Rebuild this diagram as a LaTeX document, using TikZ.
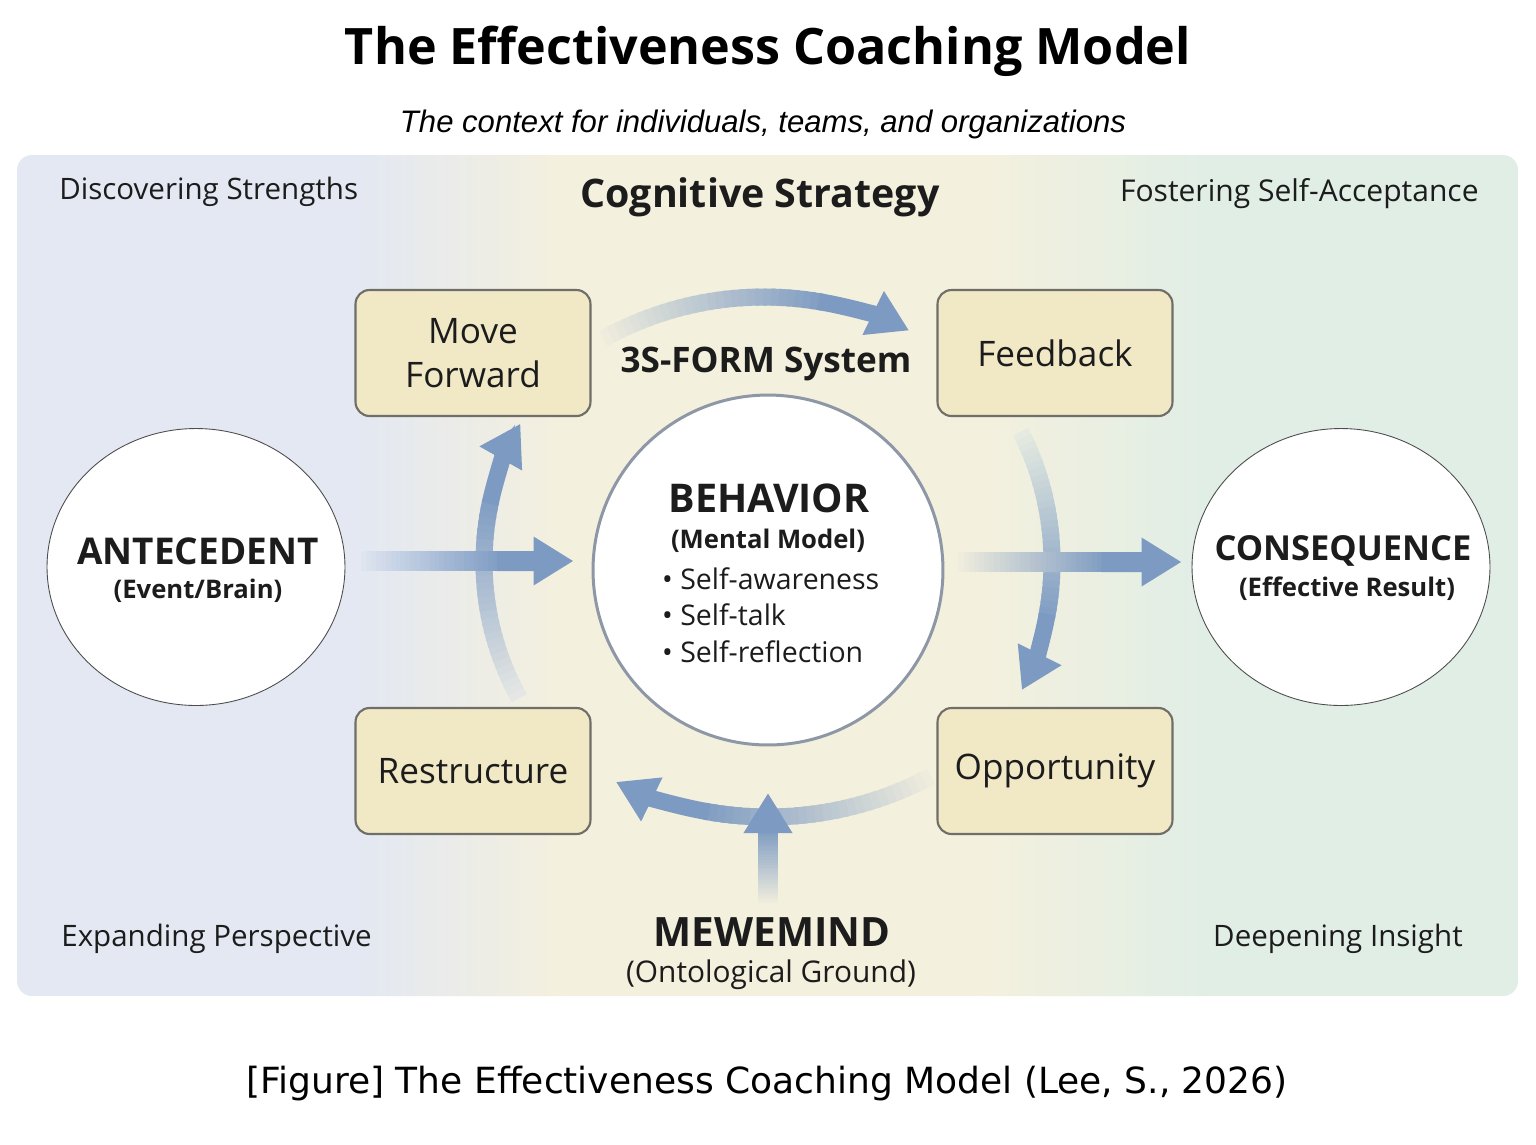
\documentclass[tikz,border=0pt]{standalone}
\usepackage{fontspec}
\setmainfont{Open Sans}
\newfontfamily\subfont{Liberation Sans}
\newfontfamily\capfont{DejaVu Sans}
\usetikzlibrary{arrows.meta,calc,positioning,shapes.geometric}

\definecolor{panelblue}{HTML}{E3E8F2}
\definecolor{panelcream}{HTML}{F4F0DE}
\definecolor{panelmint}{HTML}{E1EEE6}
\definecolor{panelmid}{HTML}{EAEBE6}
\definecolor{panelsea}{HTML}{EBEFE2}
\definecolor{boxfill}{HTML}{F1E8C6}
\definecolor{boxline}{HTML}{6F6E68}
\definecolor{arrowblue}{HTML}{7C9AC2}
\definecolor{ringline}{HTML}{8E97A6}
\definecolor{inktext}{HTML}{1C1C1C}

\tikzset{
  stagebox/.style={draw=boxline, line width=1.2pt, fill=boxfill, rounded corners=0.28cm,
    minimum width=4.7cm, minimum height=2.52cm, align=center,
    font=\fontsize{20}{25}\selectfont, text=inktext},
  sidering/.style={ellipse, draw=black!70, line width=0.5pt, fill=white,
    minimum width=5.96cm, minimum height=5.54cm},
  flowline/.style={line width=0.34cm},
  flowtip/.style={-{Triangle[width=0.92cm,length=0.8cm]}},
  cornerlabel/.style={font=\fontsize{16.8}{20}\selectfont, text=inktext, inner sep=0pt},
}

% arc arrow, fading in from a base colour: centre, radius, start angle, end angle, base
\newcommand{\fadearc}[5]{%
  \foreach \k in {0,...,27}{
    \pgfmathsetmacro{\angA}{#3+((#4)-(#3))*0.025*\k}
    \pgfmathsetmacro{\angB}{#3+((#4)-(#3))*0.025*(\k+1.5)}
    \pgfmathsetmacro{\segmix}{5+3.3*\k}
    \draw[flowline, draw=arrowblue!\segmix!#5] (#1) ++(\angA:#2) arc[start angle=\angA, end angle=\angB, radius=#2];
  }
  \pgfmathsetmacro{\angA}{#3+((#4)-(#3))*0.7}
  \draw[flowline, flowtip, draw=arrowblue, fill=arrowblue] (#1) ++(\angA:#2) arc[start angle=\angA, end angle=#4, radius=#2];
}
% straight arrow, same fade: from, to, base
\newcommand{\fadeline}[3]{%
  \foreach \k in {0,...,27}{
    \pgfmathsetmacro{\tA}{0.023*\k}
    \pgfmathsetmacro{\tB}{0.023*(\k+1.5)}
    \pgfmathsetmacro{\segmix}{5+3.3*\k}
    \draw[flowline, line width=0.4cm, draw=arrowblue!\segmix!#3] ($(#1)!\tA!(#2)$) -- ($(#1)!\tB!(#2)$);
  }
  \draw[flowline, line width=0.4cm, flowtip, draw=arrowblue] ($(#1)!0.64!(#2)$) -- (#2);
}

\begin{document}
\begin{tikzpicture}[x=0.02cm,y=-0.02cm]
\fill[white] (0,0) rectangle (1536,1144);
\useasboundingbox (0,0) rectangle (1536,1144);

% headings
\node[font=\bfseries\fontsize{28.6}{32}\selectfont, text=black] (title) at (768,51) {The Effectiveness Coaching Model};
\node[font=\subfont\itshape\fontsize{17.7}{20}\selectfont, text=black] (subtitle) at (763,124) {The context for individuals, teams, and organizations};

% context panel: blue, cream and mint bands
\begin{scope}
\clip[rounded corners=0.3cm] (17,155) rectangle (1518,996);
\fill[panelblue] (17,155) rectangle (361,996);
\shade[left color=panelblue, right color=panelcream] (360,155) rectangle (561,996);
\fill[panelcream] (560,155) rectangle (981,996);
\shade[left color=panelcream, right color=panelmint] (980,155) rectangle (1201,996);
\fill[panelmint] (1200,155) rectangle (1518,996);
\end{scope}

\node[cornerlabel, anchor=west] (strengths) at (59,192) {Discovering Strengths};
\node[cornerlabel, anchor=east, font=\fontsize{17.1}{20}\selectfont] (acceptance) at (1479,194) {Fostering Self-Acceptance};
\node[cornerlabel, anchor=west] (perspective) at (61,939) {Expanding Perspective};
\node[cornerlabel, anchor=east] (insight) at (1463,939) {Deepening Insight};
\node[font=\bfseries\fontsize{22.4}{26}\selectfont, text=inktext] (strategy) at (760,197) {Cognitive Strategy};

% arc centres for the 3S-FORM cycle
\coordinate (topc) at (764,628);
\coordinate (sidec) at (765,562);
\coordinate (botc) at (768,470);

\fadearc{topc}{331}{241}{296}{panelcream}   % Move Forward -> Feedback
\fadearc{sidec}{287}{-27}{26.5}{panelsea}   % Feedback -> Opportunity
\fadearc{botc}{347}{62}{116}{panelcream}    % Opportunity -> Restructure
\fadearc{sidec}{281}{151}{209.5}{panelmid}  % Restructure -> Move Forward

% stages
\node[stagebox] (move) at (473,353) {Move\\Forward};
\node[stagebox] (feed) at (1055,353) {Feedback};
\node[stagebox] (restr) at (473,771) {Restructure};
\node[stagebox] (oppo) at (1055,771) {Opportunity};

\node[font=\bfseries\fontsize{20}{24}\selectfont, text=inktext] (form) at (766,364) {3S-FORM System};

% A - B - C
\node[sidering] (ante) at (196,567) {};
\node[sidering] (cons) at (1341,567) {};
\node[circle, draw=ringline, line width=0.06cm, fill=white, minimum size=7.0cm] (beh) at (768,570) {};

\node[font=\bfseries\fontsize{21}{24}\selectfont, text=inktext] (antename) at (198,551) {ANTECEDENT};
\node[font=\bfseries\fontsize{14.6}{17}\selectfont, text=inktext] (antesub) at (198,591) {(Event/Brain)};
\node[font=\bfseries\fontsize{19.6}{23}\selectfont, text=inktext] (consname) at (1343,551) {CONSEQUENCE};
\node[font=\bfseries\fontsize{14.6}{17}\selectfont, text=inktext] (conssub) at (1347,589) {(Effective Result)};

\node[font=\bfseries\fontsize{22.5}{26}\selectfont, text=inktext] (behname) at (769,498) {BEHAVIOR};
\node[font=\bfseries\fontsize{14.6}{17}\selectfont, text=inktext] (behsub) at (768,541) {(Mental Model)};
\node[font=\fontsize{16.2}{20.8}\selectfont, text=inktext, anchor=west, align=left] (behlist) at (656,615) {• Self-awareness\\• Self-talk\\• Self-reflection};

\coordinate (antefrom) at ($(ante.east)+(16,-6)$);
\coordinate (behin) at ($(beh.west |- antefrom)+(-18,0)$);
\coordinate (behfrom) at ($(beh.east)+(14,-8)$);
\coordinate (consin) at ($(cons.west |- behfrom)+(-10,0)$);
\fadeline{antefrom}{behin}{panelblue}
\fadeline{behfrom}{consin}{panelcream}

% ground
\node[font=\bfseries\fontsize{23}{26}\selectfont, text=inktext] (mewe) at (772,932) {MEWEMIND};
\node[font=\fontsize{17}{20}\selectfont, text=inktext] (ground) at (771,975) {(Ontological Ground)};
\coordinate (mewebase) at (768,903);
\coordinate (mewetip) at (768,793);
\fadeline{mewebase}{mewetip}{panelcream}

\node[font=\capfont\fontsize{20.5}{24}\selectfont, text=black] (caption) at (767,1084) {[Figure] The Effectiveness Coaching Model (Lee, S., 2026)};
\end{tikzpicture}
\end{document}
